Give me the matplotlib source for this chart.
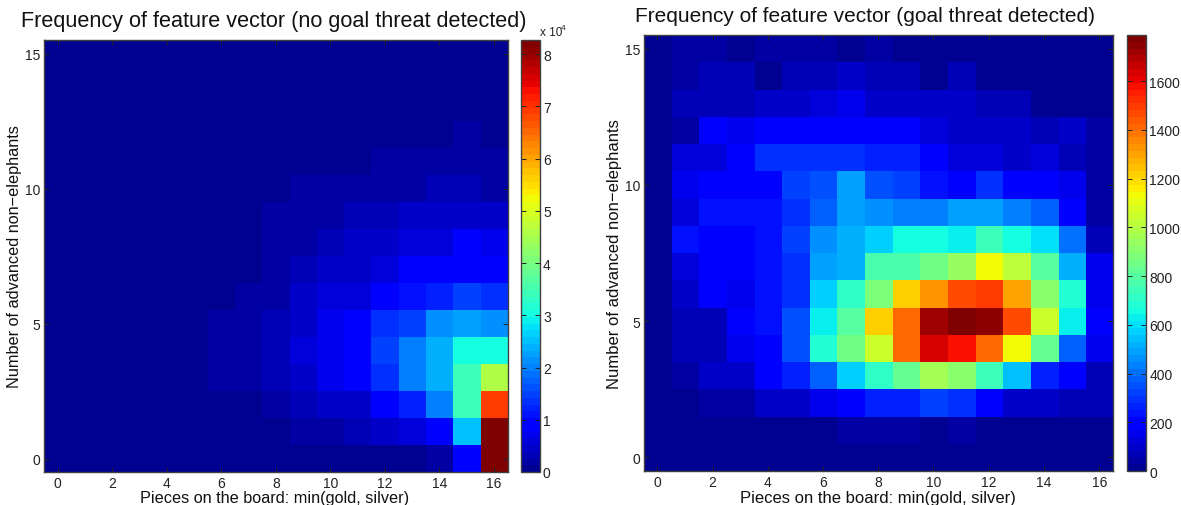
import matplotlib
matplotlib.use('Agg')
import matplotlib.pyplot as plt
from matplotlib.colors import ListedColormap
import numpy as np

plt.rcParams['font.family'] = ['Liberation Sans', 'DejaVu Sans']

W = 1181
H = 506

# rows run from y=15 (top) down to y=0, columns x=0..16
no_threat = [
    [.02]*17,
    [.02]*17,
    [.02]*17,
    [.02,.02,.02,.02,.02,.02,.02,.02,.02,.02,.02,.02,.02,.02,.02,.19,.06],
    [.02,.02,.02,.02,.02,.02,.02,.02,.02,.02,.02,.02,.19,.19,.19,.19,.19],
    [.02,.02,.02,.02,.02,.02,.02,.02,.02,.19,.19,.19,.19,.19,.32,.32,.19],
    [.02,.02,.02,.02,.02,.02,.02,.02,.19,.19,.19,.32,.32,.45,.45,.45,.40],
    [.02,.02,.02,.02,.02,.02,.02,.02,.19,.19,.32,.45,.45,.60,.60,.84,.71],
    [.02,.02,.02,.02,.02,.02,.06,.06,.19,.32,.45,.45,.58,.97,.97,.97,.97],
    [.02,.02,.02,.02,.02,.02,.06,.19,.24,.45,.58,.58,1.0,1.15,1.25,1.55,1.4],
    [.02,.02,.02,.02,.02,.06,.19,.19,.32,.40,.71,1.0,1.4,1.55,2.1,2.25,2.1],
    [.02,.02,.02,.02,.02,.06,.19,.19,.32,.58,.71,1.0,1.45,2.0,2.4,3.0,3.1],
    [.02,.02,.02,.02,.02,.06,.19,.19,.32,.45,.71,1.0,1.35,2.0,2.4,3.4,4.6],
    [.02,.02,.02,.02,.02,.02,.06,.06,.19,.32,.45,.45,.97,1.25,2.0,3.4,6.85],
    [.02,.02,.02,.02,.02,.02,.02,.02,.02,.19,.19,.32,.45,.58,.97,2.5,8.27],
    [.02,.02,.02,.02,.02,.02,.02,.02,.02,.02,.02,.02,.02,.02,.15,.85,8.27],
]

threat = [
    [0,35,35,10,35,35,35,10,35,15,15,15,15,15,15,15,15],
    [0,35,60,60,20,60,60,85,60,60,20,60,15,15,15,15,15],
    [0,60,60,60,85,85,130,150,100,85,85,85,60,60,20,20,20],
    [0,50,190,150,200,180,180,180,200,180,130,85,85,85,60,85,30],
    [0,130,120,190,280,290,300,300,270,270,190,130,130,110,130,70,40],
    [0,160,190,220,210,330,350,480,340,310,240,200,290,220,210,150,40],
    [0,130,240,240,230,290,370,500,450,440,440,480,480,440,370,190,40],
    [0,250,190,190,230,330,470,510,580,650,660,620,740,650,590,400,70],
    [0,130,170,200,240,290,490,530,760,760,850,950,1120,1030,800,520,160],
    [0,90,190,150,230,290,560,700,880,1210,1330,1480,1510,1310,920,680,150],
    [0,60,65,170,240,350,620,790,1220,1410,1730,1790,1760,1460,1040,640,170],
    [0,60,65,150,220,340,680,860,1040,1400,1640,1580,1400,1130,820,390,150],
    [0,50,90,110,190,270,370,570,700,820,960,900,750,550,270,190,70],
    [0,15,30,40,85,85,150,190,270,270,320,290,210,110,110,70,60],
    [0,0,0,0,0,0,0,35,35,35,20,35,0,0,0,0,0],
    [0]*17,
]

xticks = [0, 2, 4, 6, 8, 10, 12, 14, 16]
yticks = [0, 5, 10, 15]
cticks_left = [0, 1, 2, 3, 4, 5, 6, 7, 8]
cticks_right = [0, 200, 400, 600, 800, 1000, 1200, 1400, 1600]

title_left = 'Frequency of feature vector (no goal threat detected)'
title_right = 'Frequency of feature vector (goal threat detected)'
xlabel = 'Pieces on the board: min(gold, silver)'
ylabel = 'Number of advanced non\u2212elephants'

grey = '#404040'
# same bins as the 64 level jet the reference was made with
jet64 = ListedColormap(plt.get_cmap('jet')(np.linspace(1/64, 1, 64)))


def box(x0, y0, x1, y1):
    return [x0/W, 1 - y1/H, (x1 - x0)/W, (y1 - y0)/H]


def style(ax):
    ax.tick_params(direction='in', length=3.5, width=0.7, color='#222222',
                   labelsize=10, labelcolor='#222222', pad=2.5)
    ax.tick_params(axis='x', pad=3)
    for s in ax.spines.values():
        s.set_color(grey)
        s.set_linewidth(1.0)


def panel(fig, data, axbox, cbox, cticks, title, tsize, tx, ty, lsize, xlx, xly, ylx):
    ax = fig.add_axes(box(*axbox))
    im = ax.imshow(np.array(data, dtype=float)[::-1], origin='lower', aspect='auto',
                   cmap=jet64, interpolation='nearest', vmin=0,
                   extent=(-0.5, 16.5, -0.5, 15.5))
    ax.set_xticks(xticks)
    ax.set_yticks(yticks)
    ax.tick_params(top=True, right=True)
    style(ax)

    cax = fig.add_axes(box(*cbox))
    cb = fig.colorbar(im, cax=cax)
    cb.set_ticks(cticks)
    cb.ax.tick_params(left=True, right=True)
    style(cb.ax)
    cb.outline.set_edgecolor(grey)

    fig.text(tx/W, 1 - ty/H, title, fontsize=tsize, ha='center', va='center', color='#111111')
    fig.text(xlx/W, 1 - xly/H, xlabel, fontsize=lsize, ha='center', va='center', color='#111111')
    fig.text(ylx/W, 1 - (axbox[1] + axbox[3])/2/H, ylabel, fontsize=lsize, rotation=90,
             ha='center', va='center', color='#111111')
    return ax


fig = plt.figure(figsize=(W/100, H/100), dpi=100)

panel(fig, no_threat, (44, 41, 507.5, 473), (520.7, 41, 539.5, 473), cticks_left,
      title_left, 15.6, 274, 21, 11.7, 275, 499, 15)
panel(fig, threat, (643.5, 36, 1113, 472), (1126.7, 36, 1145.7, 472), cticks_right,
      title_right, 15.0, 865, 17, 12, 878, 499, 615)

fig.text(540/W, 1 - 33/H, 'x 10', fontsize=8.5, ha='left', va='center', color='#222222')
fig.text(561/W, 1 - 29/H, '4', fontsize=6, ha='left', va='center', color='#222222')

fig.savefig('out.png', dpi=100)
